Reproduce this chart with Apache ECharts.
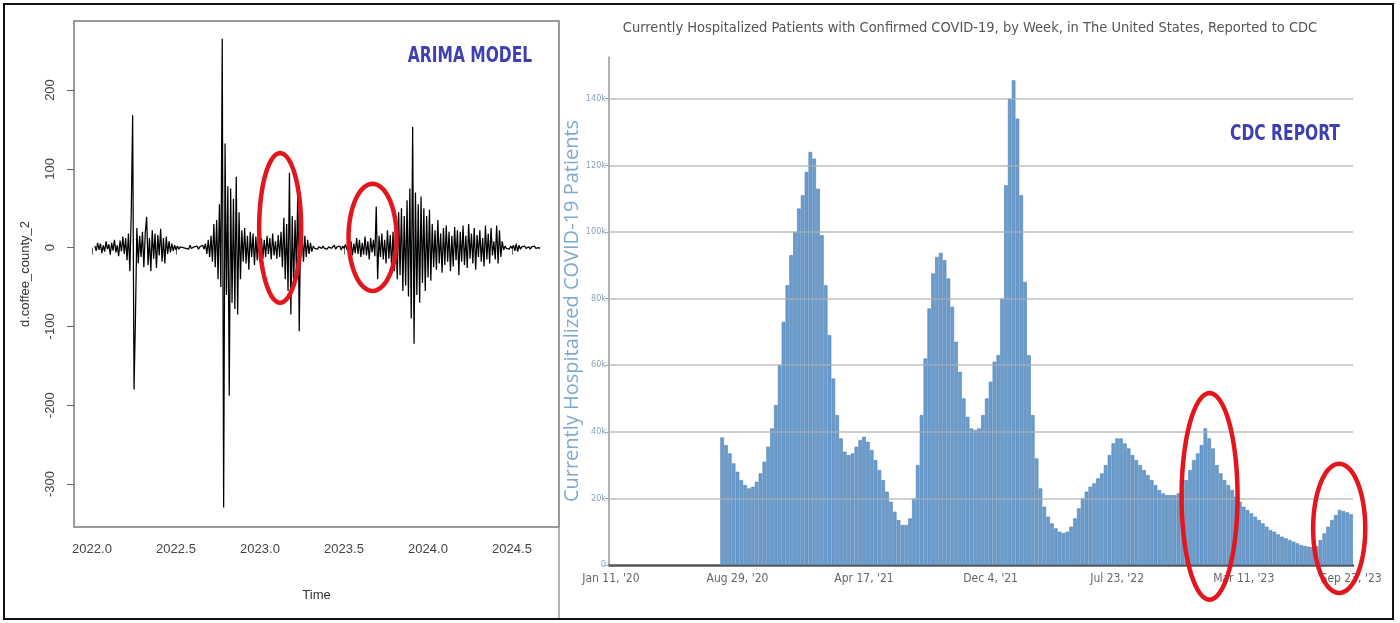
<!DOCTYPE html>
<html>
<head>
<meta charset="utf-8">
<script src="https://cdn.jsdelivr.net/npm/echarts@6/dist/echarts.min.js"></script>
<style>
  html, body { margin: 0; padding: 0; background: #fff; }
  #chart { width: 1400px; height: 623px; }
</style>
</head>
<body>
<div id="chart"></div>
<script>
// ---- Left panel: differenced county series (ARIMA input) ----
const arimaStart = 2022.017;        // first observation (decimal year)
const arimaStep = 1 / 120;          // spacing between observations (years)
const arimaValues = [
  2,-4,6,-3,5,-7,3,-5,8,-2,4,-9,6,-4,10,-6,3,-11,9,-5,14,-8,12,-16,18,
  -30,44,168,-180,-90,25,-20,
  15,-12,20,-25,18,39,-22,12,-30,22,-14,18,-26,16,-10,24,-18,12,-20,14,-8,
  8,-6,5,-4,3,-3,2,-2,
  1,-1,0,2,-1,1,-2,3,-1,0,1,-1,2,-2,1,-1,3,-2,
  5,-8,10,-12,15,-18,30,-25,35,
  -40,55,-50,265,-330,132,-60,78,-188,75,-70,62,-78,90,-85,45,-40,
  22,-18,25,-20,15,-28,20,-12,18,-22,14,-16,20,-10,12,-14,
  10,-12,15,-8,12,-15,18,-10,8,-14,16,-12,20,
  -25,38,-40,30,-55,95,-85,40,-50,35,-30,78,-106,30,
  20,-18,15,-12,10,-8,6,-5,
  2,-1,1,-2,1,0,-1,2,-1,1,-2,1,0,-1,1,3,-2,1,-1,2,-3,2,-1,4,-3,
  6,-5,8,-10,5,-7,12,-8,10,-12,6,-9,14,-10,8,-15,12,-6,10,-11,
  52,-40,15,
  -12,18,-15,10,-20,22,-14,16,-25,20,-30,28,
  -40,45,-35,50,-55,40,-48,60,-62,75,-90,153,-122,70,-60,55,-70,65,-45,50,-55,40,-38,48,-42,
  30,-25,22,-28,35,-20,18,-32,25,-22,28,-18,20,-30,15,-24,26,-16,22,-35,
  20,-18,28,-22,15,-26,30,-14,18,-20,25,-28,16,-12,22,-18,12,-24,28,-15,
  18,-20,25,-10,8,
  -15,28,-20,22,-12,8,
  -3,2,-1,1,-2,2,-1,3,-4,5,-5,3,-2,1,-1,2,-1,0,1,-2,1,-1,2,-1,1,0,-1
];
const arimaXTicks = [2022.0, 2022.5, 2023.0, 2023.5, 2024.0, 2024.5];
const arimaYTicks = [-300, -200, -100, 0, 100, 200];

// ---- Right panel: weekly hospitalized COVID-19 patients ----
const axisFirstWeek = '2020-01-11';
const hospFirstWeek = '2020-08-01';
const hospValues = [
  38300,36000,33500,30500,28000,25500,24000,23000,23500,25000,27500,31000,35500,41000,48000,60000,
  73000,84000,93000,100000,107000,111000,118000,124000,122000,113000,99000,84000,69000,56000,45000,38000,
  34000,33000,33500,35500,37500,38500,37000,34500,31500,28500,25500,22000,19000,16000,13500,12000,
  12000,14000,20000,30000,45000,62000,77000,87500,92500,93700,91500,86000,77500,67000,58000,50000,
  44500,41000,40500,41000,45000,50000,55000,61000,63000,80000,114000,140000,145500,134000,111000,85000,
  63000,45000,32000,23000,17500,14500,12500,11000,10000,9600,10000,11500,14000,17000,20000,22000,
  23500,24500,26000,27500,30000,33000,36500,38000,38000,36500,35000,33000,31500,30000,28500,27000,
  25500,24000,22500,21500,21000,21000,21000,21500,23000,25500,28500,31500,33500,36000,41000,38000,
  35000,30000,27500,25500,24000,22500,20500,19000,17500,16500,15500,14500,13500,12500,11500,10500,
  10000,9200,8500,8000,7500,7000,6500,6000,5700,5500,5400,5600,7500,9500,11500,13500,
  15000,16500,16200,15800,15200
];
const hospTickLabels = ["Jan 11, '20", "Aug 29, '20", "Apr 17, '21", "Dec 4, '21", "Jul 23, '22", "Mar 11, '23", "Sep 23, '23"];
const hospYTicks = [0, 20000, 40000, 60000, 80000, 100000, 120000, 140000];

// ---- Build series data ----
const arimaData = arimaValues.map((v, i) => [arimaStart + i * arimaStep, v]);

const MONTHS = ['Jan','Feb','Mar','Apr','May','Jun','Jul','Aug','Sep','Oct','Nov','Dec'];
const DAY = 86400000;
const firstMs = Date.parse(axisFirstWeek + 'T00:00:00Z');
const hospOffset = Math.round((Date.parse(hospFirstWeek + 'T00:00:00Z') - firstMs) / (7 * DAY));
const weekCount = hospOffset + hospValues.length;
const weekLabels = [];
for (let i = 0; i < weekCount; i++) {
  const d = new Date(firstMs + i * 7 * DAY);
  weekLabels.push(MONTHS[d.getUTCMonth()] + ' ' + d.getUTCDate() + ", '" + String(d.getUTCFullYear()).slice(2));
}
const hospData = weekLabels.map((_, i) => (i < hospOffset ? null : hospValues[i - hospOffset]));

// Highlight rings (data units)
const arimaRings = [
  { x: 2023.12, y: 25, rx: 0.125, ry: 95 },
  { x: 2023.67, y: 13, rx: 0.143, ry: 68 }
];
const hospRings = [
  { week: 156.1, y: 20600, rx: 7.3, ry: 31000 },
  { week: 189.9, y: 11000, rx: 6.8, ry: 19400 }
];

const R_FONT = "'Liberation Sans', Arial, sans-serif";
const NARROW = "'Liberation Sans Narrow', 'DejaVu Sans Condensed', sans-serif";

const chart = echarts.init(document.getElementById('chart'), null, { renderer: 'canvas' });

const option = {
  animation: false,
  backgroundColor: '#ffffff',
  grid: [
    { left: 74, top: 21, width: 485, height: 506, show: true, borderColor: '#7a7a7a', borderWidth: 1.5, backgroundColor: 'transparent' },
    { left: 609, top: 57, right: 47, bottom: 58, show: false }
  ],
  xAxis: [
    {
      gridIndex: 0, type: 'value', min: 2021.8929, max: 2024.7798,
      name: 'Time', nameLocation: 'middle', nameGap: 62, nameMoveOverlap: false,
      nameTextStyle: { fontFamily: R_FONT, fontSize: 13, color: '#333' },
      axisLine: { show: false },
      axisTick: { show: true, customValues: arimaXTicks, length: 7, lineStyle: { color: '#666', width: 1 } },
      axisLabel: { customValues: arimaXTicks, formatter: v => v.toFixed(1), fontFamily: R_FONT, fontSize: 13, color: '#444', margin: 16 },
      splitLine: { show: false }
    },
    {
      gridIndex: 1, type: 'category', data: weekLabels, boundaryGap: true,
      axisLine: { show: true, lineStyle: { color: '#555', width: 2.5 } },
      axisTick: { show: false },
      axisLabel: {
        interval: (idx, val) => hospTickLabels.includes(val),
        fontFamily: NARROW, fontSize: 12, color: '#666', margin: 8
      },
      splitLine: { show: false }
    }
  ],
  yAxis: [
    {
      gridIndex: 0, type: 'value', min: -354.6, max: 287.6,
      name: 'd.coffee_county_2', nameLocation: 'middle', nameGap: 42, nameRotate: 90, nameMoveOverlap: false,
      nameTextStyle: { fontFamily: R_FONT, fontSize: 13, color: '#333' },
      axisLine: { show: false },
      axisTick: { show: true, customValues: arimaYTicks, length: 7, lineStyle: { color: '#666', width: 1 } },
      axisLabel: { customValues: arimaYTicks, rotate: 90, align: 'center', verticalAlign: 'bottom', margin: 17,
        fontFamily: R_FONT, fontSize: 13, color: '#444' },
      splitLine: { show: false }
    },
    {
      gridIndex: 1, type: 'value', min: 0, max: 152500,
      name: 'Currently Hospitalized COVID-19 Patients', nameLocation: 'middle', nameGap: 27, nameRotate: 90,
      nameMoveOverlap: false,
      nameTextStyle: { fontFamily: "'Open Sans', sans-serif", fontSize: 20, color: '#80a9cf' },
      axisLine: { show: true, lineStyle: { color: '#999', width: 1.5 } },
      axisTick: { show: true, customValues: hospYTicks, length: 4, lineStyle: { color: '#aaa' } },
      axisLabel: { customValues: hospYTicks, formatter: v => (v === 0 ? '0' : (v / 1000) + 'k'),
        fontFamily: NARROW, fontSize: 9, color: '#8aa2ba', margin: 3 },
      splitLine: { show: false }
    }
  ],
  series: [
    {
      name: 'd.coffee_county_2', type: 'line', xAxisIndex: 0, yAxisIndex: 0,
      data: arimaData, showSymbol: false, symbol: 'none',
      lineStyle: { color: '#000', width: 1.25 }, z: 3
    },
    {
      name: 'Hospitalized', type: 'bar', xAxisIndex: 1, yAxisIndex: 1,
      data: hospData, barCategoryGap: '6%',
      itemStyle: { color: '#6b9ccc', borderColor: '#4f81b5', borderWidth: 0.6 },
      markLine: {
        silent: true, symbol: ['none', 'none'], label: { show: false },
        lineStyle: { color: 'rgba(175,175,175,0.6)', width: 2, type: 'solid' },
        data: hospYTicks.filter(v => v > 0).map(v => ({ yAxis: v }))
      },
      z: 2
    }
  ]
};

chart.setOption(option);

// ---- Overlays: frame, headings, highlight rings ----
function ringPoints(cx, cy, rx, ry) {
  const pts = [];
  for (let k = 0; k < 72; k++) {
    const a = (k / 72) * Math.PI * 2;
    pts.push([cx + rx * Math.cos(a), cy + ry * Math.sin(a)]);
  }
  return pts;
}
const ringStyle = { fill: 'none', stroke: '#e3161e', lineWidth: 4.5 };
const graphics = [];

arimaRings.forEach(r => {
  const c = chart.convertToPixel({ xAxisIndex: 0, yAxisIndex: 0 }, [r.x, r.y]);
  const e = chart.convertToPixel({ xAxisIndex: 0, yAxisIndex: 0 }, [r.x + r.rx, r.y + r.ry]);
  graphics.push({ type: 'polygon', z: 100, shape: { points: ringPoints(c[0], c[1], e[0] - c[0], c[1] - e[1]) }, style: ringStyle });
});

const p0 = chart.convertToPixel({ xAxisIndex: 1, yAxisIndex: 1 }, [0, 0]);
const p1 = chart.convertToPixel({ xAxisIndex: 1, yAxisIndex: 1 }, [1, 0]);
const band = p1[0] - p0[0];
hospRings.forEach(r => {
  const cy = chart.convertToPixel({ xAxisIndex: 1, yAxisIndex: 1 }, [0, r.y])[1];
  const ty = chart.convertToPixel({ xAxisIndex: 1, yAxisIndex: 1 }, [0, r.y + r.ry])[1];
  const cx = p0[0] + r.week * band;
  graphics.push({ type: 'polygon', z: 100, shape: { points: ringPoints(cx, cy, r.rx * band, cy - ty) }, style: ringStyle });
});

const headingStyle = { fill: '#3d3fb2', fontFamily: NARROW, fontWeight: 'bold', fontSize: 21, align: 'center', verticalAlign: 'middle' };
graphics.push(
  { type: 'rect', z: 120, shape: { x: 4, y: 4, width: 1389, height: 615 }, style: { fill: 'none', stroke: '#111', lineWidth: 2 } },
  { type: 'line', z: 110, shape: { x1: 559, y1: 527, x2: 559, y2: 619 }, style: { stroke: '#9a9a9a', lineWidth: 1.5 } },
  { type: 'text', z: 110, x: 470, y: 57, scaleX: 0.82, style: Object.assign({ text: 'ARIMA MODEL' }, headingStyle) },
  { type: 'text', z: 110, x: 1285, y: 135, scaleX: 0.82, style: Object.assign({ text: 'CDC REPORT' }, headingStyle) },
  { type: 'text', z: 110, x: 970, y: 28, style: { text: 'Currently Hospitalized Patients with Confirmed COVID-19, by Week, in The United States, Reported to CDC', fill: '#555', fontFamily: NARROW, fontSize: 14.5, align: 'center', verticalAlign: 'middle' } }
);

chart.setOption({ graphic: graphics });
</script>
</body>
</html>
